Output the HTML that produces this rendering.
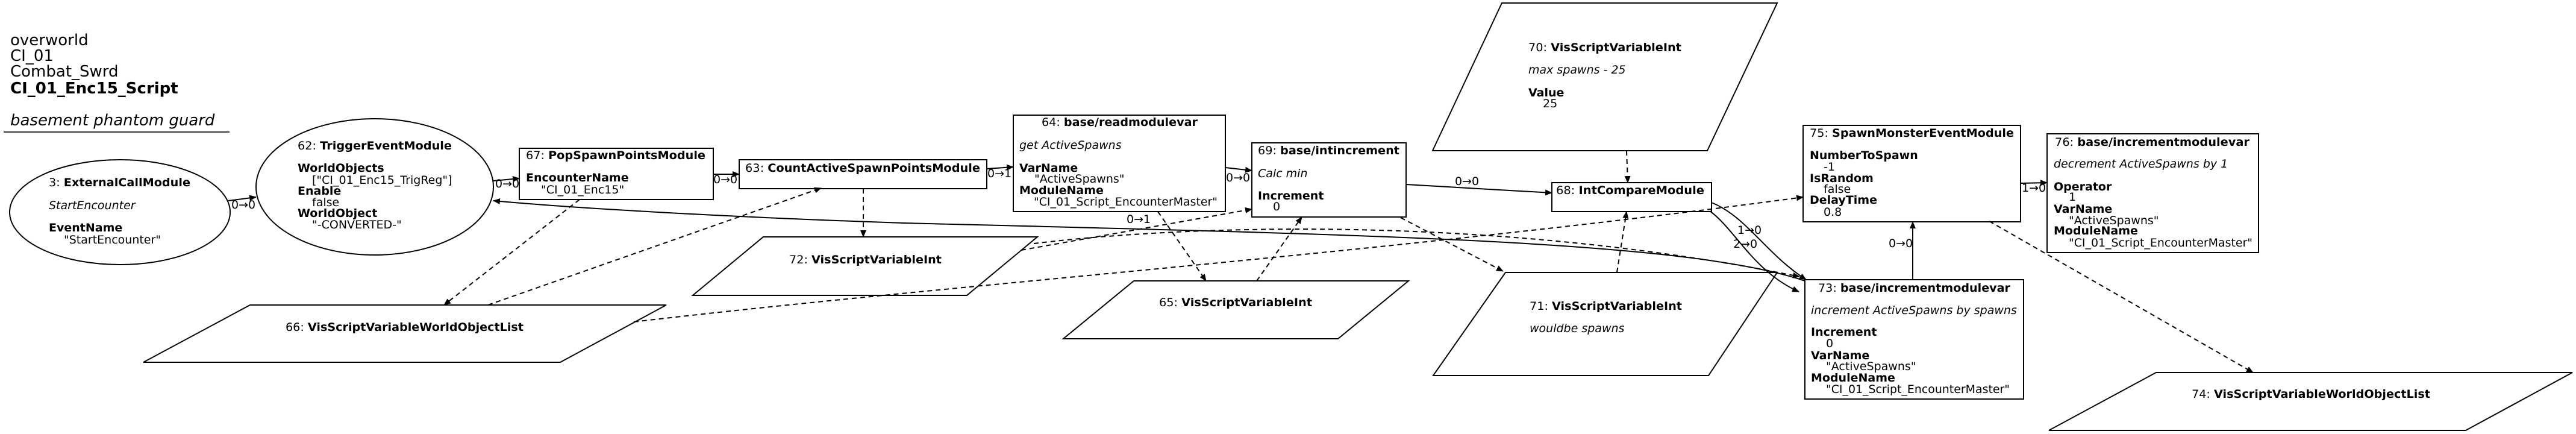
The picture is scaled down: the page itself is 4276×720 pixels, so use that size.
<!DOCTYPE html>
<html><head><meta charset="utf-8">
<style>
html,body{margin:0;padding:0;background:#fff;}
svg{display:block;}
text{font-family:"DejaVu Sans","Liberation Sans",sans-serif;font-size:19px;fill:#000;}
.b{font-weight:bold;}
.i{font-style:italic;}
.t{font-size:26px;}
</style></head><body>
<svg width="4276" height="720" viewBox="0 0 4276 720" xmlns="http://www.w3.org/2000/svg">
<defs>
<marker id="a" markerWidth="12" markerHeight="10" refX="11" refY="5" orient="auto" markerUnits="userSpaceOnUse">
<path d="M0,0 L12,5 L0,10 z" fill="#000"/>
</marker>
</defs>
<rect width="4276" height="720" fill="#fff"/>

<text class="t" x="17" y="75">overworld</text>
<text class="t" x="17" y="101">CI_01</text>
<text class="t" x="17" y="127">Combat_Swrd</text>
<text class="t b" x="17" y="155">CI_01_Enc15_Script</text>
<text class="t i" x="17" y="208">basement phantom guard</text>
<line x1="6" y1="219" x2="381" y2="219" stroke="#333" stroke-width="2"/>

<g fill="none" stroke="#000" stroke-width="2">
<ellipse cx="199" cy="352" rx="183" ry="87" fill="#fff"/>
<ellipse cx="622" cy="310" rx="197" ry="113" fill="#fff"/>
<rect x="862" y="246" width="322" height="85" fill="#fff"/>
<rect x="1227" y="265" width="411" height="48" fill="#fff"/>
<rect x="1682" y="191" width="352" height="160" fill="#fff"/>
<rect x="2078" y="237" width="256" height="123" fill="#fff"/>
<rect x="2576" y="303" width="265" height="48" fill="#fff"/>
<rect x="2993" y="208" width="361" height="160" fill="#fff"/>
<rect x="3398" y="222" width="351" height="197" fill="#fff"/>
<rect x="2996" y="464" width="363" height="198" fill="#fff"/>
<polygon points="415,506 1106,506 930,601 238,601" fill="#fff"/>
<polygon points="1267,393 1722,393 1605,490 1150,490" fill="#fff"/>
<polygon points="1882,466 2338,466 2221,562 1765,562" fill="#fff"/>
<polygon points="2493,5 2950,5 2834,250 2378,250" fill="#fff"/>
<polygon points="2499,452 2950,452 2836,623 2379,623" fill="#fff"/>
<polygon points="3579,618 4270,618 4093,714 3401,714" fill="#fff"/>

<path d="M379,333 L425,327" marker-end="url(#a)"/>
<path d="M819,300 L862,296" marker-end="url(#a)"/>
<path d="M1184,289 L1227,289" marker-end="url(#a)"/>
<path d="M1638,280 L1682,277" marker-end="url(#a)"/>
<path d="M2034,278 L2078,283" marker-end="url(#a)"/>
<path d="M2334,306 L2576,320" marker-end="url(#a)"/>
<path d="M2841,336 C2900,360 2930,420 2998,464" marker-end="url(#a)"/>
<path d="M2838,350 C2880,380 2910,450 2986,484" marker-end="url(#a)"/>
<path d="M3175,464 L3175,368" marker-end="url(#a)"/>
<path d="M3354,304 L3398,303" marker-end="url(#a)"/>
<path d="M2996,466 C2800,400 2300,390 1500,370 C1200,360 950,345 819,333" marker-end="url(#a)"/>
</g>

<g fill="none" stroke="#000" stroke-width="2" stroke-dasharray="8,6">
<path d="M962,331 L737,506" marker-end="url(#a)"/>
<path d="M810,506 L1363,312" marker-end="url(#a)"/>
<path d="M1052,534 C1600,470 2300,420 2993,327" marker-end="url(#a)"/>
<path d="M1433,313 L1433,393" marker-end="url(#a)"/>
<path d="M1922,351 L2002,466" marker-end="url(#a)"/>
<path d="M2086,466 L2161,360" marker-end="url(#a)"/>
<path d="M1695,415 L2078,347" marker-end="url(#a)"/>
<path d="M1716,404 C2000,370 2500,360 2987,459" marker-end="url(#a)"/>
<path d="M2325,361 L2495,450" marker-end="url(#a)"/>
<path d="M2684,452 L2700,351" marker-end="url(#a)"/>
<path d="M2700,250 L2702,303" marker-end="url(#a)"/>
<path d="M3302,367 L3740,618" marker-end="url(#a)"/>
</g>

<text x="384" y="346">0→0</text>
<text x="822" y="311">0→0</text>
<text x="1184" y="304">0→0</text>
<text x="1639" y="294">0→1</text>
<text x="1870" y="370">0→1</text>
<text x="2035" y="301">0→0</text>
<text x="2415" y="307">0→0</text>
<text x="2884" y="388">1→0</text>
<text x="2877" y="411">2→0</text>
<text x="3135" y="410">0→0</text>
<text x="3356" y="318">1→0</text>

<text x="81" y="309" textLength="235" lengthAdjust="spacingAndGlyphs">3: <tspan class="b">ExternalCallModule</tspan></text>
<text class="i" x="81" y="347">StartEncounter</text>
<text class="b" x="81" y="384">EventName</text>
<text x="106" y="404">"StartEncounter"</text>

<text x="494" y="248" textLength="256" lengthAdjust="spacingAndGlyphs">62: <tspan class="b">TriggerEventModule</tspan></text>
<text class="b" x="494" y="285">WorldObjects</text>
<text x="518" y="305">["CI_01_Enc15_TrigReg"]</text>
<text class="b" x="494" y="323">Enable</text>
<text x="518" y="342">false</text>
<text class="b" x="494" y="360">WorldObject</text>
<text x="518" y="379">"-CONVERTED-"</text>

<text x="873" y="264" textLength="298" lengthAdjust="spacingAndGlyphs">67: <tspan class="b">PopSpawnPointsModule</tspan></text>
<text class="b" x="873" y="301">EncounterName</text>
<text x="898" y="321">"CI_01_Enc15"</text>

<text x="1237" y="285" textLength="390" lengthAdjust="spacingAndGlyphs">63: <tspan class="b">CountActiveSpawnPointsModule</tspan></text>

<text x="1729" y="209" textLength="259" lengthAdjust="spacingAndGlyphs">64: <tspan class="b">base/readmodulevar</tspan></text>
<text class="i" x="1692" y="247">get ActiveSpawns</text>
<text class="b" x="1692" y="285">VarName</text>
<text x="1717" y="303">"ActiveSpawns"</text>
<text class="b" x="1692" y="322">ModuleName</text>
<text x="1716" y="341" textLength="305" lengthAdjust="spacingAndGlyphs">"CI_01_Script_EncounterMaster"</text>

<text x="2088" y="256" textLength="235" lengthAdjust="spacingAndGlyphs">69: <tspan class="b">base/intincrement</tspan></text>
<text class="i" x="2088" y="294">Calc min</text>
<text class="b" x="2088" y="331">Increment</text>
<text x="2113" y="349">0</text>

<text x="2583" y="322" textLength="246" lengthAdjust="spacingAndGlyphs">68: <tspan class="b">IntCompareModule</tspan></text>

<text x="3004" y="227" textLength="339" lengthAdjust="spacingAndGlyphs">75: <tspan class="b">SpawnMonsterEventModule</tspan></text>
<text class="b" x="3004" y="264">NumberToSpawn</text>
<text x="3027" y="283">-1</text>
<text class="b" x="3004" y="302">IsRandom</text>
<text x="3027" y="320">false</text>
<text class="b" x="3004" y="338">DelayTime</text>
<text x="3027" y="358">0.8</text>

<text x="3411" y="242" textLength="323" lengthAdjust="spacingAndGlyphs">76: <tspan class="b">base/incrementmodulevar</tspan></text>
<text class="i" x="3409" y="278">decrement ActiveSpawns by 1</text>
<text class="b" x="3409" y="316">Operator</text>
<text x="3434" y="333">1</text>
<text class="b" x="3409" y="353">VarName</text>
<text x="3434" y="372">"ActiveSpawns"</text>
<text class="b" x="3409" y="389">ModuleName</text>
<text x="3434" y="409" textLength="305" lengthAdjust="spacingAndGlyphs">"CI_01_Script_EncounterMaster"</text>

<text x="3018" y="484" textLength="319" lengthAdjust="spacingAndGlyphs">73: <tspan class="b">base/incrementmodulevar</tspan></text>
<text class="i" x="3006" y="521">increment ActiveSpawns by spawns</text>
<text class="b" x="3006" y="557">Increment</text>
<text x="3031" y="576">0</text>
<text class="b" x="3006" y="596">VarName</text>
<text x="3031" y="614">"ActiveSpawns"</text>
<text class="b" x="3006" y="633">ModuleName</text>
<text x="3031" y="652" textLength="305" lengthAdjust="spacingAndGlyphs">"CI_01_Script_EncounterMaster"</text>

<text x="474" y="549" textLength="395" lengthAdjust="spacingAndGlyphs">66: <tspan class="b">VisScriptVariableWorldObjectList</tspan></text>
<text x="1310" y="437" textLength="253" lengthAdjust="spacingAndGlyphs">72: <tspan class="b">VisScriptVariableInt</tspan></text>
<text x="1924" y="508" textLength="254" lengthAdjust="spacingAndGlyphs">65: <tspan class="b">VisScriptVariableInt</tspan></text>
<text x="2537" y="85" textLength="254" lengthAdjust="spacingAndGlyphs">70: <tspan class="b">VisScriptVariableInt</tspan></text>
<text class="i" x="2537" y="122">max spawns - 25</text>
<text class="b" x="2537" y="160">Value</text>
<text x="2561" y="178">25</text>
<text x="2539" y="514" textLength="253" lengthAdjust="spacingAndGlyphs">71: <tspan class="b">VisScriptVariableInt</tspan></text>
<text class="i" x="2539" y="551">wouldbe spawns</text>
<text x="3638" y="660" textLength="396" lengthAdjust="spacingAndGlyphs">74: <tspan class="b">VisScriptVariableWorldObjectList</tspan></text>
</svg>
</body></html>
